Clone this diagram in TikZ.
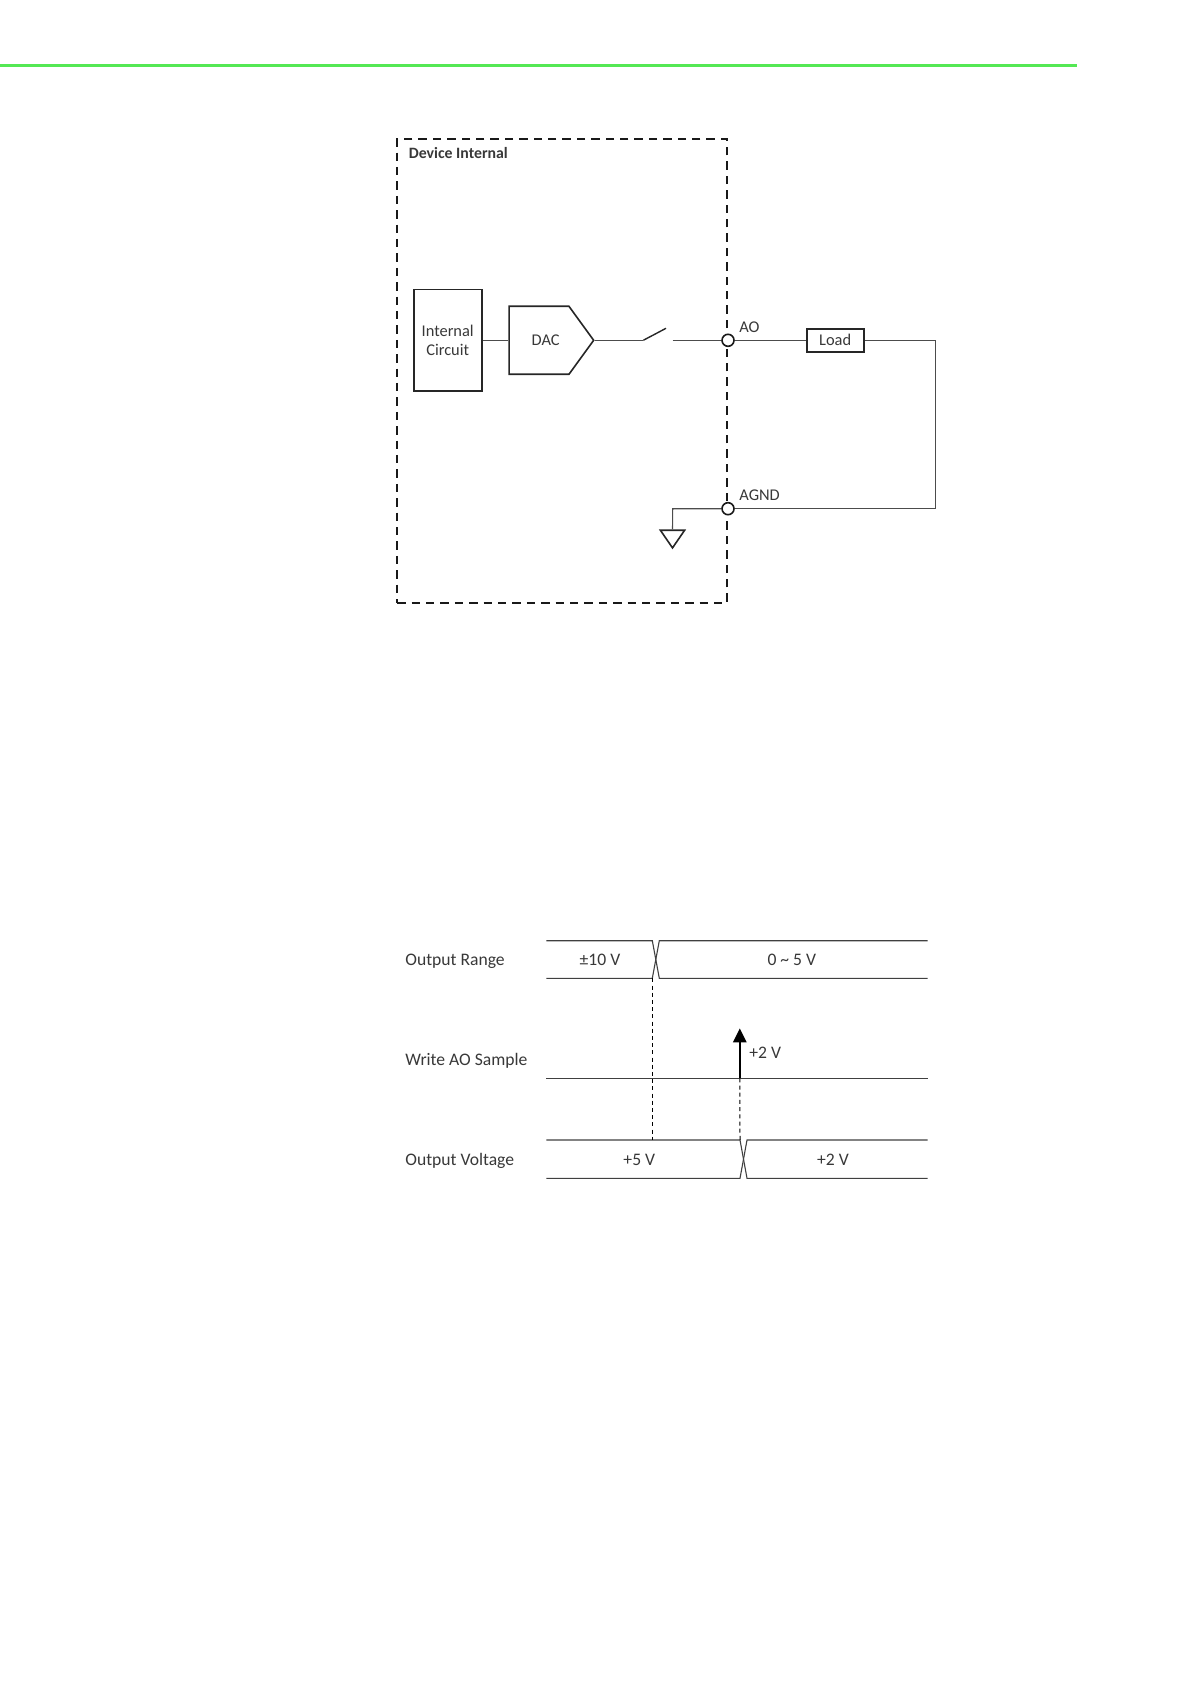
\documentclass[tikz,border=0pt]{standalone}
\usepackage{xcolor}
\usepackage{fontspec}
\setmainfont{Carlito}
\usetikzlibrary{arrows.meta,shapes.geometric,shapes.symbols}
\definecolor{wiregray}{gray}{0.3}
\definecolor{textgray}{gray}{0.22}
\definecolor{rulegreen}{RGB}{84,232,84}

\begin{document}
\begin{tikzpicture}[
  x=0.5pt, y=-0.5pt,
  font=\fontsize{8.2}{10}\selectfont,
  block/.style={draw=black!85, line width=0.9pt, align=center, inner sep=0pt, text=textgray},
  wire/.style={draw=wiregray, line width=0.55pt},
  trace/.style={draw=black!75, line width=0.55pt},
  guide/.style={draw=black, line width=0.5pt, dash pattern=on 2pt off 1.6pt},
  terminal/.style={circle, draw=black!90, fill=white, line width=0.8pt, minimum size=6pt, inner sep=0pt},
  lbl/.style={text=textgray, inner sep=0pt},
  rowlbl/.style={lbl, anchor=west, font=\fontsize{8.8}{10}\selectfont},
  vallbl/.style={lbl, font=\fontsize{8.8}{10}\selectfont}
]
\useasboundingbox (0,0) rectangle (1191,1684);
\draw[rulegreen, line width=1.1pt] (0,65.5) coordinate (ruleL) -- (1077,65.5) coordinate (ruleR);

% device box
\node[draw=black!90, line width=1pt, dash pattern=on 4.2pt off 3pt, minimum width=165pt, minimum height=232pt, inner sep=0pt] (device) at (562.2,371) {};
\node[lbl, anchor=west, font=\fontsize{7.9}{10}\selectfont\bfseries] (devicelabel) at (408.5,153) {Device Internal};

\node[block, minimum width=34pt, minimum height=50.7pt] (circuit) at (447.7,340.3) {Internal\\[-0.5pt]Circuit};
\node[block, signal, signal to=east, signal pointer angle=108, minimum width=42.3pt, minimum height=34pt, line width=0.8pt] (dac) at (539,340.3) {};
\node[lbl] (daclabel) at (545.7,340.3) {DAC};
\node[block, minimum width=28.5pt, minimum height=11.5pt, line width=0.8pt] (load) at (835.2,340.3) {Load};

\node[terminal] (ao) at (728,340.3) {};
\node[terminal] (agnd) at (728,508.7) {};
\node[lbl, anchor=west] (aolabel) at (739,327) {AO};
\node[lbl, anchor=west] (agndlabel) at (739,495.7) {AGND};

\coordinate (swA) at (643.3,340.3);
\coordinate (swB) at (666,328.3);
\coordinate (swC) at (672.7,340.3);
\coordinate (corner) at (935.7,340.3);
\coordinate (corner2) at (935.7,508.7);
\coordinate (gndtop) at (672.7,508.7);
\node[draw=black!85, fill=white, line width=0.8pt, isosceles triangle, isosceles triangle apex angle=69, shape border rotate=-90, inner sep=0pt, minimum height=8.8pt, anchor=apex] (gnd) at (672.5,549.3) {};

\draw[wire] (circuit) -- (dac);
\draw[wire] (dac.east) -- (swA);
\draw[black!85, line width=0.7pt] (swA) -- (swB);
\draw[wire] (swC) -- (ao);
\draw[wire] (ao) -- (load);
\draw[wire] (load) -- (corner) -- (corner2) -- (agnd);
\draw[wire] (agnd) -- (gndtop) -- (gnd.north);

% timing rows
\node[rowlbl] (rangelabel) at (405,961.3) {Output Range};
\node[rowlbl] (writelabel) at (405,1060.3) {Write AO Sample};
\node[rowlbl] (voltlabel) at (405,1161.3) {Output Voltage};

\coordinate (rangeTL) at (546.4,940.7);
\coordinate (rangeBL) at (546.4,978.3);
\coordinate (rangeTa) at (652.3,940.7);
\coordinate (rangeBa) at (652.3,978.3);
\coordinate (rangeTb) at (659.3,940.7);
\coordinate (rangeBb) at (659.3,978.3);
\coordinate (rangeTR) at (927.5,940.7);
\coordinate (rangeBR) at (927.5,978.3);
\draw[trace] (rangeTL) -- (rangeTa) -- (rangeBb) -- (rangeBR);
\draw[trace] (rangeBL) -- (rangeBa) -- (rangeTb) -- (rangeTR);

\coordinate (writeL) at (546.4,1078.3);
\coordinate (writeR) at (927.5,1078.3);
\coordinate (writeM) at (739.8,1078.3);
\coordinate (writeTip) at (739.8,1028.3);
\draw[trace] (writeL) -- (writeR);
\draw[-{Triangle[length=7pt,width=6.6pt]}, black, line width=1.1pt] (writeM) -- (writeTip);

\coordinate (voltTL) at (546.4,1140);
\coordinate (voltBL) at (546.4,1178.3);
\coordinate (voltTa) at (740,1140);
\coordinate (voltBa) at (740,1178.3);
\coordinate (voltTb) at (747,1140);
\coordinate (voltBb) at (747,1178.3);
\coordinate (voltTR) at (927.5,1140);
\coordinate (voltBR) at (927.5,1178.3);
\draw[trace] (voltTL) -- (voltTa) -- (voltBb) -- (voltBR);
\draw[trace] (voltBL) -- (voltBa) -- (voltTb) -- (voltTR);

\coordinate (guideA) at (652.3,1140);
\draw[guide] (rangeBa) -- (guideA);
\draw[guide] (writeM) -- (voltTa);

\node[vallbl] (range1) at (600,959.8) {±10 V};
\node[vallbl] (range2) at (791.8,959.8) {0 \textasciitilde{} 5 V};
\node[vallbl, anchor=west] (writeval) at (749,1053) {+2 V};
\node[vallbl] (volt1) at (639.3,1159.8) {+5 V};
\node[vallbl] (volt2) at (832.9,1159.8) {+2 V};
\end{tikzpicture}
\end{document}
